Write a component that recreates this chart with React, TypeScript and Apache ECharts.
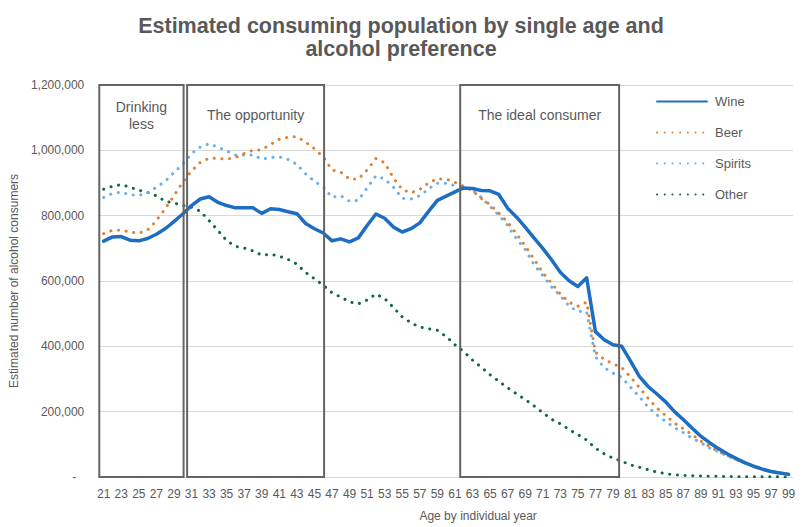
import React, { useEffect, useRef } from "react";
import * as echarts from "echarts";

// Ages on the horizontal axis (single years)
const ages = [
  21, 22, 23, 24, 25, 26, 27, 28, 29, 30, 31, 32, 33, 34, 35, 36, 37, 38, 39, 40,
  41, 42, 43, 44, 45, 46, 47, 48, 49, 50, 51, 52, 53, 54, 55, 56, 57, 58, 59, 60,
  61, 62, 63, 64, 65, 66, 67, 68, 69, 70, 71, 72, 73, 74, 75, 76, 77, 78, 79, 80,
  81, 82, 83, 84, 85, 86, 87, 88, 89, 90, 91, 92, 93, 94, 95, 96, 97, 98, 99,
];

// Estimated consumers per age, in thousands
const wine = [
  722, 735, 736, 725, 723, 730, 743, 760, 782, 805, 831, 851, 858, 841, 831, 824, 824, 824, 807, 821,
  819, 812, 806, 776, 760, 747, 723, 729, 720, 732, 770, 805, 792, 765, 750, 760, 778, 813, 847, 860,
  873, 885, 883, 877, 876, 865, 823, 796, 765, 732, 700, 665, 627, 601, 583, 610, 445, 420, 405, 400,
  355, 308, 277, 254, 230, 200, 176, 150, 125, 105, 87, 71, 57, 44, 33, 24, 17, 12, 8,
];
const beer = [
  745, 755, 756, 750, 746, 756, 785, 821, 861, 902, 937, 963, 976, 975, 973, 978, 990, 1000, 1002, 1018,
  1034, 1040, 1042, 1025, 1005, 980, 940, 933, 912, 912, 940, 975, 962, 915, 880, 870, 880, 900, 913, 912,
  902, 890, 876, 853, 834, 808, 780, 745, 708, 667, 626, 593, 560, 535, 523, 535, 382, 360, 347, 335,
  306, 274, 241, 211, 188, 165, 148, 130, 110, 94, 78, 66, 54, 43, 34, 25, 18, 13, 10,
];
const spirits = [
  856, 868, 872, 864, 862, 870, 887, 905, 932, 957, 990, 1010, 1020, 1010, 998, 986, 986, 986, 973, 978,
  980, 972, 957, 928, 905, 888, 856, 861, 844, 847, 885, 922, 912, 887, 853, 851, 861, 882, 899, 899,
  892, 888, 878, 856, 828, 802, 770, 730, 697, 650, 617, 582, 555, 523, 507, 506, 368, 335, 318, 305,
  275, 246, 214, 190, 170, 151, 136, 119, 105, 89, 77, 65, 53, 42, 33, 25, 18, 13, 9,
];
const other = [
  881, 890, 895, 887, 878, 871, 861, 844, 839, 831, 826, 814, 785, 755, 724, 706, 701, 692, 679, 682,
  676, 666, 652, 626, 607, 587, 564, 551, 536, 530, 542, 560, 546, 519, 490, 472, 459, 454, 449, 430,
  405, 384, 358, 336, 313, 293, 273, 255, 237, 218, 197, 177, 163, 145, 130, 113, 88, 71, 58, 48,
  37, 30, 22, 15, 10, 7, 5, 4, 3, 2.5, 2, 1.5, 1.2, 1, 0.8, 0.6, 0.5, 0.4, 0.3,
];

// Highlighted age bands (ages as continuous values on a hidden axis)
const bandLabels = ["Drinking\nless", "The opportunity", "The ideal consumer"];
const bandFrom = [20.5, 30.5, 61.6];
const bandTo = [30.1, 46.1, 79.7];

const yMax = 1200000;
const yStep = 200000;

const GREY = "#595959";
const FONT = "'Liberation Sans', Arial, sans-serif";

const makeLine = (name: string, values: number[], color: string, dotted: boolean, z: number) => ({
  type: "line",
  name,
  data: values.map((v) => v * 1000),
  xAxisIndex: 0,
  yAxisIndex: 0,
  symbol: "none",
  showSymbol: false,
  z,
  itemStyle: { color },
  lineStyle: {
    color,
    width: dotted ? 3 : 3.5,
    type: dotted ? [0.1, 7.6] : "solid",
    cap: "round",
    join: "round",
  },
});

export default function App() {
  const ref = useRef<HTMLDivElement>(null);

  useEffect(() => {
    if (!ref.current) return;
    const chart = echarts.init(ref.current, null, { renderer: "svg" });
    chart.setOption({
      animation: false,
      backgroundColor: "#ffffff",
      textStyle: { fontFamily: FONT },
      title: {
        text: "Estimated consuming population by single age and\nalcohol preference",
        left: "center",
        top: 9,
        textStyle: {
          fontFamily: FONT,
          fontSize: 21.5,
          fontWeight: "bold",
          color: GREY,
          lineHeight: 23.5,
        },
      },
      legend: {
        data: ["Wine", "Beer", "Spirits", "Other"],
        orient: "vertical",
        left: 651,
        top: 90,
        itemWidth: 50,
        itemHeight: 14,
        itemGap: 18,
        itemStyle: { opacity: 0 },
        textStyle: { color: GREY, fontSize: 13, fontFamily: FONT, padding: [0, 0, 0, 3] },
      },
      grid: { left: 98.5, right: 9, top: 85, bottom: 47, containLabel: false },
      xAxis: [
        {
          type: "category",
          data: ages,
          boundaryGap: true,
          axisLabel: { interval: 1, color: GREY, fontSize: 12, margin: 11, fontFamily: FONT },
          axisTick: { show: false },
          axisLine: { lineStyle: { color: "#d9d9d9" } },
          splitLine: { show: false },
          name: "Age by individual year",
          nameLocation: "middle",
          nameGap: 33,
          nameTextStyle: { color: GREY, fontSize: 12, fontFamily: FONT, padding: [0, 0, 0, 64] },
        },
        { type: "value", min: 20.5, max: 99.5, show: false },
      ],
      yAxis: {
        type: "value",
        min: 0,
        max: yMax,
        interval: yStep,
        axisLine: { show: false },
        axisTick: { show: false },
        splitLine: { lineStyle: { color: "#d9d9d9", width: 1 } },
        axisLabel: {
          color: GREY,
          fontSize: 12,
          margin: 15,
          fontFamily: FONT,
          formatter: (v: number) => (v === 0 ? "{z|-}" : v.toLocaleString("en-US")),
          rich: { z: { color: GREY, fontSize: 12, padding: [0, 8, 0, 0] } },
        },
        name: "Estimated number of alcohol consumers",
        nameLocation: "middle",
        nameGap: 68,
        nameTextStyle: { color: GREY, fontSize: 12, fontFamily: FONT },
      },
      series: [
        makeLine("Other", other, "#0F6A3B", true, 2),
        makeLine("Spirits", spirits, "#6DAEE6", true, 3),
        makeLine("Beer", beer, "#DE8136", true, 4),
        makeLine("Wine", wine, "#1D6EC2", false, 5),
        {
          type: "custom",
          name: "bands",
          xAxisIndex: 1,
          yAxisIndex: 0,
          silent: true,
          z: 6,
          clip: false,
          data: bandFrom.map((f, i) => [f, bandTo[i]]),
          renderItem: (params: any, api: any) => {
            const p0 = api.coord([api.value(0), yMax]);
            const p1 = api.coord([api.value(1), 0]);
            return {
              type: "group",
              children: [
                {
                  type: "rect",
                  shape: { x: p0[0], y: p0[1], width: p1[0] - p0[0], height: p1[1] - p0[1] },
                  style: { fill: "none", stroke: "#646464", lineWidth: 2 },
                },
                {
                  type: "text",
                  x: (p0[0] + p1[0]) / 2,
                  y: p0[1] + 30,
                  style: {
                    text: bandLabels[params.dataIndex],
                    fill: GREY,
                    fontSize: 14,
                    fontFamily: FONT,
                    align: "center",
                    verticalAlign: "middle",
                    lineHeight: 17,
                  },
                },
              ],
            };
          },
        },
      ],
    });
    return () => chart.dispose();
  }, []);

  return (
    <div
      ref={ref}
      style={{ position: "absolute", left: 0, top: 0, width: 802, height: 527 }}
    />
  );
}
